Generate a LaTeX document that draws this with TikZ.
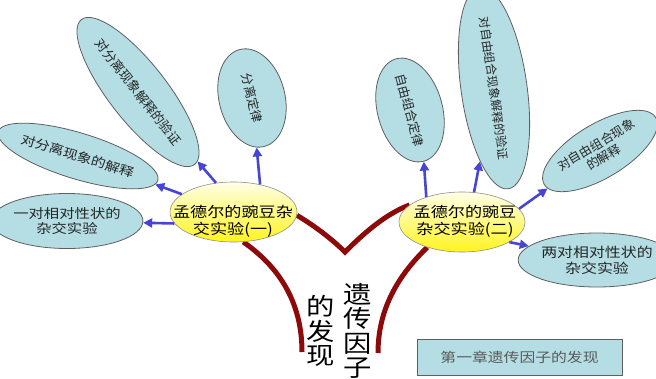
\documentclass[tikz,border=0pt]{standalone}
\usepackage{fontspec}
\setmainfont{Noto Sans CJK SC}
\newfontfamily\wide[FakeStretch=1.18]{Noto Sans CJK SC}
\usetikzlibrary{shapes.geometric,arrows.meta,backgrounds}
\definecolor{bluefill}{RGB}{180,222,228}
\definecolor{edgegray}{RGB}{95,95,95}
\definecolor{arrowblue}{RGB}{70,70,210}
\definecolor{stemred}{RGB}{140,10,10}
\definecolor{ytop}{RGB}{255,255,232}
\definecolor{ybot}{RGB}{255,244,30}
\tikzset{
  bubble/.style={ellipse, draw=edgegray, line width=0.8pt, fill=bluefill, inner sep=0pt, align=center, text=black!85},
  yolk/.style={ellipse, draw=edgegray!70, line width=0.6pt, top color=ytop, bottom color=ybot, inner sep=0pt},
  yolktext/.style={font=\wide\fontsize{14.5}{17}\selectfont, align=center, inner sep=0pt, text=black},
  link/.style={draw=arrowblue, line width=2.6pt, -{Triangle[length=9pt,width=9pt]}},
  stem/.style={draw=stemred, line width=5pt, line join=miter},
  bigtext/.style={font=\wide\fontsize{24}{24.5}\selectfont, align=center, inner sep=0pt, text=black}
}
\begin{document}
\begin{tikzpicture}[x=1pt,y=-1pt]
\useasboundingbox (0,0) rectangle (656,378);

% central yellow ellipses
\node[yolk, minimum width=127pt, minimum height=60pt] (y1) at (233.5,212) {};
\node[yolktext] (y1t) at (233,221) {孟德尔的豌豆杂\\交实验(一)};
\node[yolk, minimum width=126pt, minimum height=60pt] (y2) at (462,222) {};
\node[yolktext] (y2t) at (465,221) {孟德尔的豌豆\\杂交实验(二)};

% left bubbles
\node[bubble, minimum width=119pt, minimum height=55pt, font=\wide\fontsize{13}{15.5}\selectfont] (a1) at (67,221) {一对相对性状的\\杂交实验};
\node[bubble, minimum width=134pt, minimum height=46pt, rotate=-17, font=\wide\fontsize{12.5}{15}\selectfont] (a2) at (78,156) {对分离现象的解释};
\node[bubble, minimum width=150pt, minimum height=58pt, rotate=-52, font=\fontsize{13}{15}\selectfont] (a3) at (138,92) {对分离现象解释的验证};
\node[bubble, minimum width=100pt, minimum height=66pt, rotate=-76, font=\fontsize{12.5}{14}\selectfont] (a4) at (252,98) {分离定律};

% right bubbles
\node[bubble, minimum width=98pt, minimum height=65pt, rotate=-75, font=\fontsize{12.5}{14}\selectfont] (b1) at (410,110) {自由组合定律};
\node[bubble, minimum width=155pt, minimum height=66pt, rotate=-82, font=\fontsize{12}{14}\selectfont] (b2) at (494,88) {对自由组合现象解释的验证};
\node[bubble, minimum width=130pt, minimum height=54pt, rotate=31, font=\fontsize{12.5}{14.5}\selectfont] (b3) at (600,151) {对自由组合现象\\的解释};
\node[bubble, minimum width=117pt, minimum height=54pt, font=\wide\fontsize{13.5}{16}\selectfont] (b4) at (597,260) {两对相对性状的\\杂交实验};

% title box
\node[draw=edgegray, line width=0.8pt, fill=bluefill, minimum width=205pt, minimum height=36pt, inner sep=0pt, font=\wide\fontsize{13.4}{15}\selectfont, text=black!65] (box) at (519.5,357) {第一章遗传因子的发现};

% vertical central text
\node[bigtext] (t1) at (321,331) {的\\发\\现};
\node[bigtext] (t2) at (358,331) {遗\\传\\因\\子};

\coordinate (vtip) at (345,252);
\coordinate (lfoot) at (302,352);
\coordinate (rfoot) at (378,353);

\begin{pgfonlayer}{background}
\fill[white] (0,0) rectangle (656,378);
\draw[stem] (y1.357) .. controls (315,226) and (333,240) .. (vtip)
            .. controls (362,235) and (385,214) .. (y2.162);
\draw[stem] (y1.288) .. controls (272,262) and (302,295) .. (lfoot);
\draw[stem] (y2.216) .. controls (402,272) and (378,305) .. (rfoot);
\end{pgfonlayer}

% arrows
\draw[link] (y1.191) -- (a1);
\draw[link] (y1.161) -- (a2);
\draw[link] (y1.121) -- (a3);
\draw[link] (y1.46) -- (a4);
\draw[link] (y2.145) -- (b1.east);
\draw[link] (y2.68) -- (b2);
\draw[link] (y2.13) -- (b3);
\draw[link] (y2.337) -- (b4);
\end{tikzpicture}
\end{document}
